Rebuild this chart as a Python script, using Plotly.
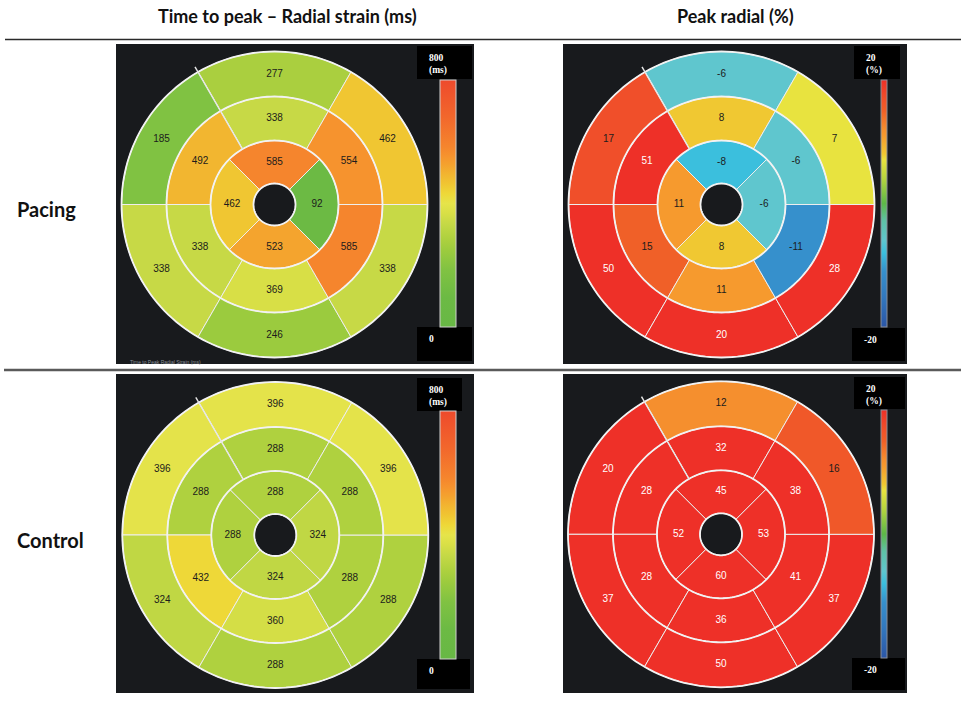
import plotly.graph_objects as go

W, H = 961, 701

# ---------------- data ----------------
# ring centre angles (deg, counter-clockwise from east)
basal_mid_theta = [90, 150, 210, 270, 330, 30]   # top, upper-left, lower-left, bottom, lower-right, upper-right
apical_theta = [90, 180, 270, 0]                 # top, left, bottom, right

pacing_ttp_basal = [277, 185, 338, 246, 338, 462]
pacing_ttp_mid = [338, 492, 338, 369, 585, 554]
pacing_ttp_apical = [585, 462, 523, 92]

pacing_peak_basal = [-6, 17, 50, 20, 28, 7]
pacing_peak_mid = [8, 51, 15, 11, -11, -6]
pacing_peak_apical = [-8, 11, 8, -6]

control_ttp_basal = [396, 396, 324, 288, 288, 396]
control_ttp_mid = [288, 288, 432, 360, 288, 288]
control_ttp_apical = [288, 288, 324, 324]

control_peak_basal = [12, 20, 37, 50, 37, 16]
control_peak_mid = [32, 28, 28, 36, 41, 38]
control_peak_apical = [45, 52, 60, 53]

col_titles = ["Time to peak \u2013 Radial strain (ms)", "Peak radial (%)"]
row_titles = ["Pacing", "Control"]
ttp_range = [0, 800]
peak_range = [-20, 20]
ttp_labels = ["800", "(ms)", "0"]
peak_labels = ["20", "(%)", "-20"]

# ---------------- styling ----------------
ttp_cs = [
    [0.0, '#68b845'], [0.12, '#6cba44'], [0.23, '#80c242'], [0.31, '#9ccb3e'],
    [0.36, '#afd13f'], [0.42, '#c6d946'], [0.46, '#d8df46'], [0.50, '#e6e44a'],
    [0.54, '#eed838'], [0.58, '#f0c532'], [0.62, '#f2b430'], [0.655, '#f4a32e'],
    [0.69, '#f6942e'], [0.73, '#f5852d'], [0.85, '#f2672c'], [1.0, '#ee4a2c'],
]
peak_cs = [
    [0.0, '#2b56a6'], [0.12, '#3278be'], [0.225, '#3690cc'], [0.3, '#3bbfdd'],
    [0.35, '#5fc6ce'], [0.43, '#5ec2a6'], [0.5, '#5db848'], [0.6, '#b5d43f'],
    [0.675, '#e8e33f'], [0.7, '#f0c832'], [0.775, '#f69a2e'], [0.8, '#f58f2e'],
    [0.875, '#f06028'], [0.925, '#f04f2a'], [1.0, '#ee3028'],
]

R_HOLE, R_API, R_MID, R_BAS = 21, 64, 108, 153
RD = 160  # radial axis range == pixels
PANEL_BG = '#181a1d'
ring_theta = list(range(0, 361, 2))


def py(y):
    return (H - y) / H


def px(x):
    return x / W


fig = go.Figure()

panels = [
    # (polar id, centre x, centre y, basal, mid, apical, kind, panel rect, bar rect, top box, bottom box)
    ('polar', 274.5, 204.5, pacing_ttp_basal, pacing_ttp_mid, pacing_ttp_apical, 'ttp',
     (116, 44, 474, 364), (440, 80, 458, 327), (417, 46, 472, 79), (417, 327, 472, 361)),
    ('polar2', 721.5, 204.5, pacing_peak_basal, pacing_peak_mid, pacing_peak_apical, 'peak',
     (563, 44, 907, 364), (881, 80, 889, 327), (854, 46, 900, 79), (852, 328, 905, 361)),
    ('polar3', 275.3, 535.0, control_ttp_basal, control_ttp_mid, control_ttp_apical, 'ttp',
     (116, 374, 474, 693), (440, 411, 458, 659), (417, 378, 462, 411), (417, 659, 470, 689)),
    ('polar4', 721.0, 534.3, control_peak_basal, control_peak_mid, control_peak_apical, 'peak',
     (563, 374, 907, 693), (881, 410, 889, 658), (854, 377, 905, 409), (852, 658, 905, 690)),
]

shapes = []
annotations = []
layout_polars = {}

for pid, cx, cy, basal, mid, api, kind, prect, brect, tbox, bbox in panels:
    vals = basal + mid + api
    theta = basal_mid_theta + basal_mid_theta + apical_theta
    widths = [60] * 6 + [60] * 6 + [90] * 4
    bases = [R_MID] * 6 + [R_API] * 6 + [R_HOLE] * 4
    thick = [R_BAS - R_MID] * 6 + [R_MID - R_API] * 6 + [R_API - R_HOLE] * 4
    text_r = [(R_BAS + R_MID) / 2] * 6 + [(R_MID + R_API) / 2] * 6 + [(R_API + R_HOLE) / 2] * 4

    if kind == 'ttp':
        cs, rng, labels = ttp_cs, ttp_range, ttp_labels
        tcols = ['#1c1c1c'] * len(vals)
        outline = '#d0d0d0'
    else:
        cs, rng, labels = peak_cs, peak_range, peak_labels
        tcols = ['#ffffff' if v >= 20 else '#1c1c1c' for v in vals]
        outline = '#8a8f99'
    bar_th = brect[2] - brect[0] - 2

    bar_len = brect[3] - brect[1]
    fig.add_trace(go.Barpolar(
        r=thick, base=bases, theta=theta, width=widths,
        marker=dict(color=vals, colorscale=cs, cmin=rng[0], cmax=rng[1],
                    line=dict(color='#eeeeee', width=1.0),
                    showscale=True,
                    colorbar=dict(x=px(brect[0]), xanchor='left',
                                  y=py((brect[1] + brect[3]) / 2), yanchor='middle',
                                  len=bar_len, lenmode='pixels',
                                  thickness=bar_th, thicknessmode='pixels',
                                  xpad=0, ypad=0, outlinewidth=1, outlinecolor=outline,
                                  showticklabels=False, ticks='', borderwidth=0)),
        hoverinfo='skip', subplot=pid, showlegend=False,
    ))
    # ring boundary circles (slightly heavier than the spokes)
    for rr in (R_HOLE, R_API, R_MID, R_BAS):
        fig.add_trace(go.Scatterpolar(
            r=[rr] * len(ring_theta), theta=ring_theta, mode='lines',
            line=dict(color='#f2f2f2', width=1.8), hoverinfo='skip',
            subplot=pid, showlegend=False,
        ))
    fig.add_trace(go.Scatterpolar(
        r=[R_API, RD - 1], theta=[120, 120], mode='lines',
        line=dict(color='#e6e6e6', width=1.4), hoverinfo='skip',
        subplot=pid, showlegend=False,
    ))
    fig.add_trace(go.Scatterpolar(
        r=text_r, theta=theta, mode='text', text=[str(v) for v in vals],
        textfont=dict(color=tcols, size=10, family='Liberation Sans, Arial, sans-serif'),
        hoverinfo='skip', subplot=pid, showlegend=False,
    ))

    layout_polars[pid] = dict(
        domain=dict(x=[px(cx - RD), px(cx + RD)], y=[py(cy + RD), py(cy - RD)]),
        bgcolor='rgba(0,0,0,0)',
        radialaxis=dict(visible=False, range=[0, RD]),
        angularaxis=dict(visible=False, rotation=0, direction='counterclockwise'),
    )

    # panel background
    shapes.append(dict(type='rect', xref='paper', yref='paper', layer='below',
                       x0=px(prect[0]), x1=px(prect[2]), y0=py(prect[3]), y1=py(prect[1]),
                       fillcolor=PANEL_BG, line=dict(width=0)))
    # black label boxes
    for bx in (tbox, bbox):
        shapes.append(dict(type='rect', xref='paper', yref='paper', layer='above',
                           x0=px(bx[0]), x1=px(bx[2]), y0=py(bx[3]), y1=py(bx[1]),
                           fillcolor='#000000', line=dict(width=0)))
    lab_font = dict(family='Liberation Serif, Times New Roman, serif', size=9.5, color='white', weight='bold')
    tx = tbox[0] + 10
    annotations.append(dict(x=px(tx), y=py(tbox[1] + 12), xref='paper', yref='paper',
                            text=labels[0], showarrow=False, xanchor='left', yanchor='middle', font=lab_font))
    annotations.append(dict(x=px(tx), y=py(tbox[1] + 24), xref='paper', yref='paper',
                            text=labels[1], showarrow=False, xanchor='left', yanchor='middle', font=lab_font))
    annotations.append(dict(x=px(bbox[0] + 10), y=py(bbox[1] + 12), xref='paper', yref='paper',
                            text=labels[2], showarrow=False, xanchor='left', yanchor='middle', font=lab_font))

# small cropped caption at bottom of first panel
annotations.append(dict(x=px(128), y=py(362), xref='paper', yref='paper',
                        text='Time to Peak Radial Strain (ms)', showarrow=False,
                        xanchor='left', yanchor='middle',
                        font=dict(family='Liberation Sans, Arial', size=5, color='#8a9099')))

# column headers
hdr_font = dict(family='Lato, Open Sans, sans-serif', size=18, color='#111111', weight='bold')
annotations.append(dict(x=px(287), y=py(16), xref='paper', yref='paper', text=col_titles[0],
                        showarrow=False, xanchor='center', yanchor='middle', font=hdr_font))
annotations.append(dict(x=px(735), y=py(16), xref='paper', yref='paper', text=col_titles[1],
                        showarrow=False, xanchor='center', yanchor='middle', font=hdr_font))
# row labels
row_font = dict(family='Lato, Open Sans, sans-serif', size=20, color='#111111', weight='bold')
annotations.append(dict(x=px(15), y=py(209), xref='paper', yref='paper', text=row_titles[0],
                        showarrow=False, xanchor='left', yanchor='middle', font=row_font))
annotations.append(dict(x=px(15), y=py(540), xref='paper', yref='paper', text=row_titles[1],
                        showarrow=False, xanchor='left', yanchor='middle', font=row_font))

# table rules
shapes.append(dict(type='line', xref='paper', yref='paper', x0=px(5), x1=1, y0=py(39.5), y1=py(39.5),
                   line=dict(color='#2a2a2a', width=1.5)))
shapes.append(dict(type='line', xref='paper', yref='paper', x0=px(4), x1=1, y0=py(370), y1=py(370),
                   line=dict(color='#5a5a5a', width=2.5)))

fig.update_layout(
    width=W, height=H, margin=dict(l=0, r=0, t=0, b=0),
    paper_bgcolor='white', plot_bgcolor='white', showlegend=False,
    shapes=shapes, annotations=annotations,
    **layout_polars,
)

fig.write_html("out.html", config={'displayModeBar': False, 'staticPlot': True},
               post_script="document.body.style.margin='0';document.body.style.padding='0';"
                           "document.body.style.overflow='hidden';")
